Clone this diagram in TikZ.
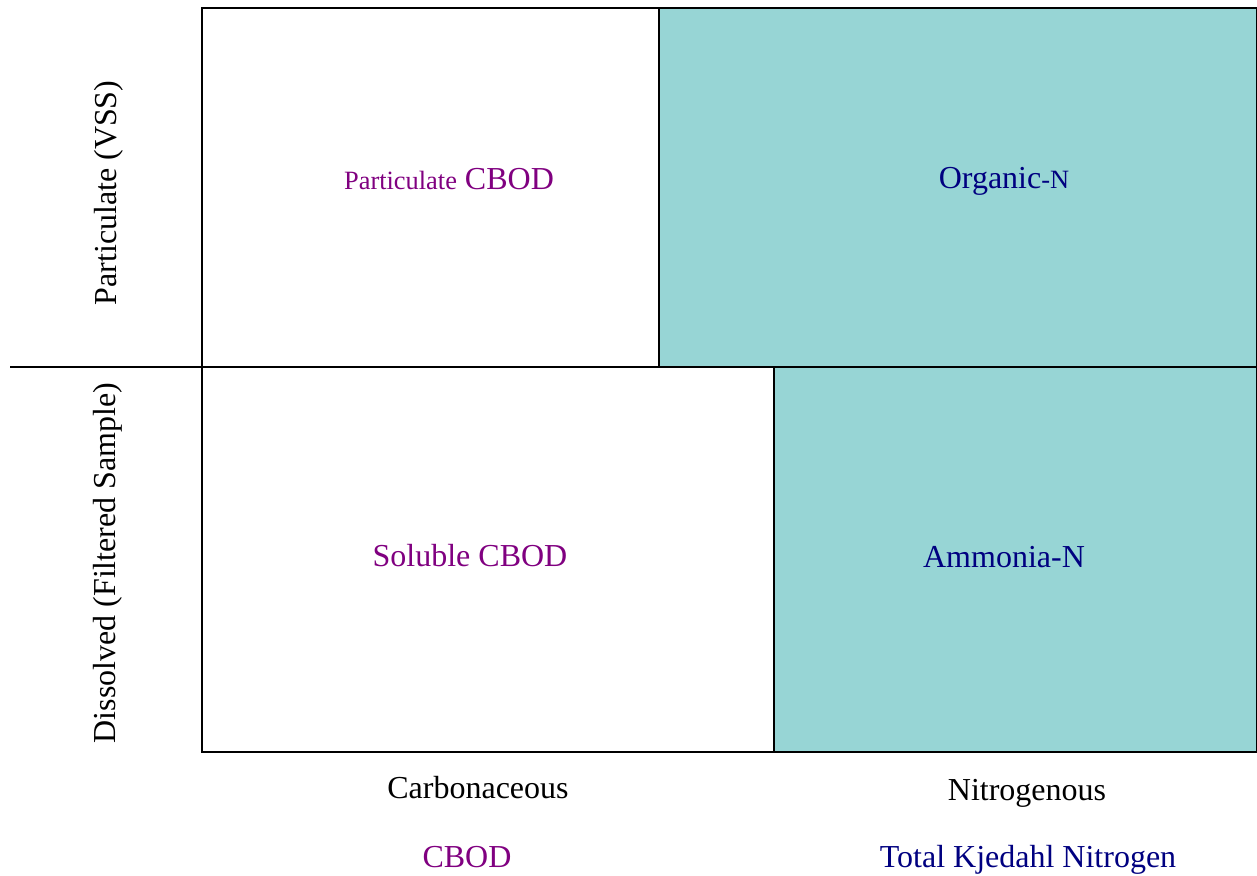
\documentclass[tikz,border=0pt]{standalone}
\usepackage{fontspec}
\setmainfont{Liberation Serif}
\usepackage{tikz}
\usetikzlibrary{positioning}

\definecolor{tealfill}{RGB}{151,213,213}
\definecolor{cbodpurple}{RGB}{128,0,128}
\definecolor{tknnavy}{RGB}{0,0,128}

\begin{document}
\begin{tikzpicture}[
  x=0.5pt, y=-0.5pt,
  cell/.style={draw, line width=1pt, anchor=north west, inner sep=0pt, outer sep=0pt},
  nitro/.style={cell, fill=tealfill},
  big/.style={font=\fontsize{16}{19}\selectfont, inner sep=0pt},
  axislabel/.style={big, rotate=90}
]
\useasboundingbox (0,0) rectangle (1257,876);

% the four fractions
\node[cell, minimum width=228.5pt, minimum height=179.5pt] (pcbod) at (202,8) {};
\node[nitro, minimum width=299pt, minimum height=179.5pt] (orgn) at (659,8) {};
\node[cell, minimum width=286pt, minimum height=192.5pt] (scbod) at (202,367) {};
\node[nitro, minimum width=241.5pt, minimum height=192.5pt] (ammn) at (774,367) {};

% divider between particulate and dissolved
\coordinate (divl) at (10,367);
\draw[line width=1pt] (divl) -- (pcbod.south west);

% texts in the boxes
\node[big, text=cbodpurple] (pcbodtxt) at (449,179)
  {{\fontsize{13.2}{16}\selectfont Particulate} CBOD};
\node[big, text=tknnavy] (orgntxt) at (1004,181)
  {Organic{\fontsize{13.2}{16}\selectfont -N}};
\node[big, text=cbodpurple] (scbodtxt) at (470,556) {Soluble CBOD};
\node[big, text=tknnavy] (ammntxt) at (1004,557) {Ammonia-N};

% row labels
\node[axislabel] (partlbl) at (109,193) {Particulate (VSS)};
\node[axislabel] (disslbl) at (108,563) {Dissolved (Filtered Sample)};

% column labels
\node[big] (carblbl) at (478,788) {Carbonaceous};
\node[big] (nitrlbl) at (1027,793) {Nitrogenous};
\node[big, text=cbodpurple] (cbodlbl) at (467,857) {CBOD};
\node[big, text=tknnavy] (tknlbl) at (1028,860) {Total Kjedahl Nitrogen};
\end{tikzpicture}
\end{document}
